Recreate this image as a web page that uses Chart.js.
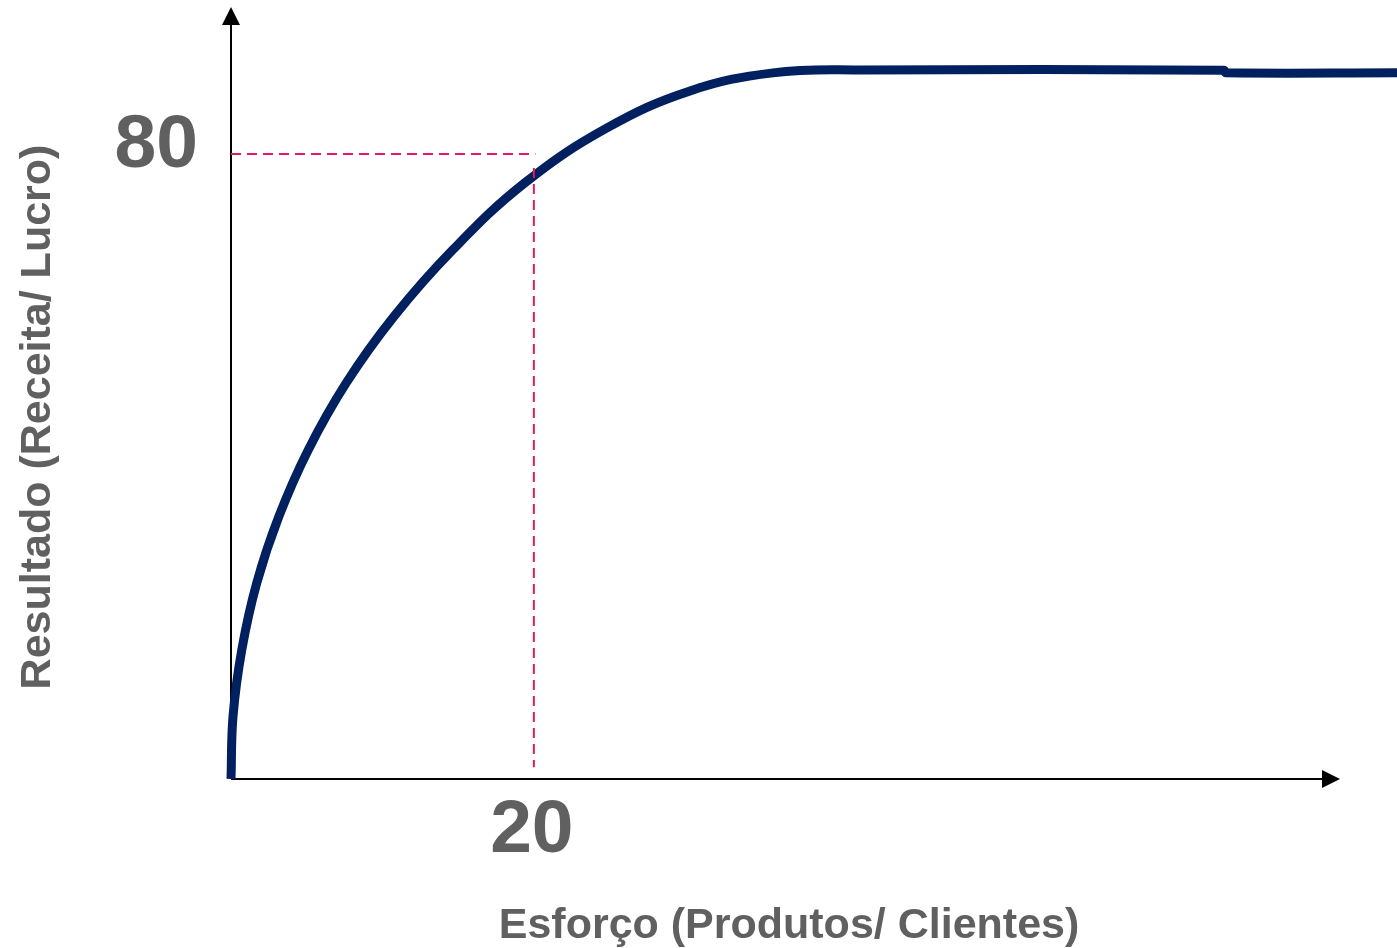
<!DOCTYPE html>
<html>
<head>
<meta charset="utf-8">
<script src="https://cdn.jsdelivr.net/npm/chart.js@4/dist/chart.umd.min.js"></script>
<style>
  html, body { margin: 0; padding: 0; background: #fff; }
  canvas { display: block; }
</style>
</head>
<body>
<canvas id="pareto" width="1397" height="948"></canvas>
<script>
// effort (x) vs result (y)
const effort = [0, 0.13, 0.71, 1.7, 3.15, 5.1, 7.61, 10.74, 14.64, 19.4, 24.83, 30.31,
  35.79, 41.54, 65.57, 65.7, 77];
const result = [0, 7.94, 16.51, 25.09, 33.54, 42.11, 50.69, 59.14, 67.71, 76.29, 83.33,
  88.06, 90.37, 90.75, 90.69, 90.37, 90.37];

const markX = 20;
const markY = 80;
const guideH = [[0, markY], [20.1, markY]];
const guideV = [[markX, 78.2], [markX, 1.5]];

const xMax = 77;
const yMax = 98.8;

const grey = "#606060";
const navy = "#002060";
const pink = "#e5195e";
const font = "'Liberation Sans', Arial, sans-serif";

const toPoints = (xs, ys) => xs.map((x, i) => ({ x: x, y: ys[i] }));
const pairs = (arr) => arr.map((p) => ({ x: p[0], y: p[1] }));

const axesPlugin = {
  id: "axes",
  beforeDatasetsDraw: (chart) => {
    const { ctx, chartArea } = chart;
    const x0 = chartArea.left;
    const y0 = chartArea.bottom;
    ctx.save();
    ctx.strokeStyle = "#000";
    ctx.fillStyle = "#000";
    ctx.lineWidth = 2;
    // y axis
    ctx.beginPath();
    ctx.moveTo(x0, y0);
    ctx.lineTo(x0, chartArea.top + 16);
    ctx.stroke();
    ctx.beginPath();
    ctx.moveTo(x0, chartArea.top);
    ctx.lineTo(x0 - 9, chartArea.top + 18);
    ctx.lineTo(x0 + 9, chartArea.top + 18);
    ctx.closePath();
    ctx.fill();
    // x axis
    const xEnd = 1340;
    ctx.beginPath();
    ctx.moveTo(x0, y0);
    ctx.lineTo(xEnd - 16, y0);
    ctx.stroke();
    ctx.beginPath();
    ctx.moveTo(xEnd, y0);
    ctx.lineTo(xEnd - 18, y0 - 9);
    ctx.lineTo(xEnd - 18, y0 + 9);
    ctx.closePath();
    ctx.fill();
    ctx.restore();
  },
  afterDraw: (chart) => {
    const { ctx, scales } = chart;
    const px = scales.x.getPixelForValue(markX);
    const py = scales.y.getPixelForValue(markY);
    ctx.save();
    ctx.fillStyle = grey;
    ctx.font = "bold 75px " + font;
    ctx.textBaseline = "alphabetic";
    ctx.textAlign = "right";
    ctx.fillText(String(markY), chart.chartArea.left - 33, py + 13);
    ctx.textAlign = "center";
    ctx.fillText(String(markX), px - 2, 852);

    ctx.font = "bold 43px " + font;
    ctx.fillText("Esforço (Produtos/ Clientes)", 789, 938);

    ctx.translate(50, 417);
    ctx.rotate(-Math.PI / 2);
    ctx.fillText("Resultado (Receita/ Lucro)", 0, 0);
    ctx.restore();
  },
};

const data = {
  datasets: [
    {
      data: pairs(guideH),
      borderColor: pink,
      borderWidth: 2,
      borderDash: [10, 6],
      pointRadius: 0,
      clip: false,
    },
    {
      data: pairs(guideV),
      borderColor: pink,
      borderWidth: 2,
      borderDash: [10, 6],
      pointRadius: 0,
      clip: false,
    },
    {
      data: toPoints(effort, result),
      borderColor: navy,
      borderWidth: 9,
      tension: 0.4,
      pointRadius: 0,
      clip: false,
    },
  ],
};

new Chart(document.getElementById("pareto").getContext("2d"), {
  type: "line",
  data: data,
  options: {
    responsive: false,
    animation: false,
    layout: { padding: { left: 231, top: 7, right: 0, bottom: 169 } },
    scales: {
      x: { type: "linear", min: 0, max: xMax, display: false },
      y: { type: "linear", min: 0, max: yMax, display: false },
    },
    plugins: {
      legend: { display: false },
      tooltip: { enabled: false },
    },
  },
  plugins: [axesPlugin],
});
</script>
</body>
</html>
